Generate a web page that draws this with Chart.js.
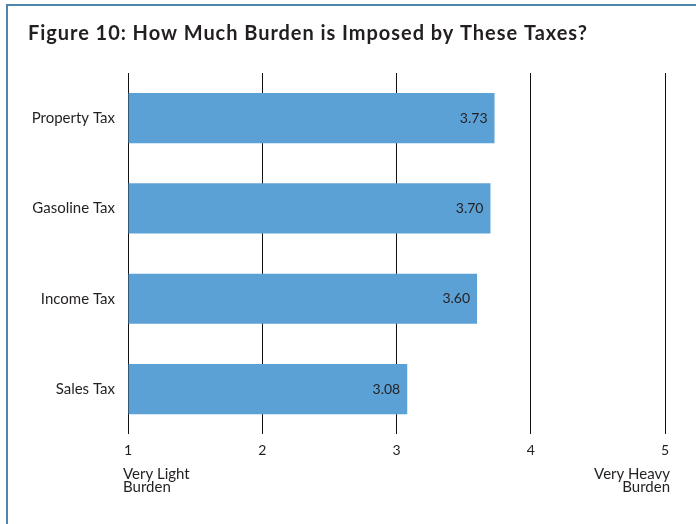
<!DOCTYPE html>
<html>
<head>
<meta charset="utf-8">
<script src="https://cdn.jsdelivr.net/npm/chart.js@4/dist/chart.umd.min.js"></script>
<style>
    html, body { margin: 0; padding: 0; background: #fff; }
    #wrap { position: relative; width: 696px; height: 524px; }
</style>
</head>
<body>
<div id="wrap"><canvas id="burden-chart"></canvas></div>
<script>
const taxes = ['Property Tax', 'Gasoline Tax', 'Income Tax', 'Sales Tax'];
const burden = [3.73, 3.70, 3.60, 3.08];
const scaleTicks = [1, 2, 3, 4, 5];
const scaleEnds = { 1: ['Very Light', 'Burden'], 5: ['Very Heavy', 'Burden'] };
const titleText = 'Figure 10: How Much Burden is Imposed by These Taxes?';

const FONT = 'Lato, "Open Sans", sans-serif';

// frame + title + value labels + end-of-scale captions
const decorations = {
    id: 'decorations',
    beforeDraw(chart) {
        const ctx = chart.ctx;
        ctx.save();
        ctx.strokeStyle = '#4f84ad';
        ctx.lineWidth = 2;
        ctx.beginPath();
        ctx.moveTo(7, 530);
        ctx.lineTo(7, 5);
        ctx.lineTo(700, 5);
        ctx.stroke();

        ctx.fillStyle = '#231f20';
        ctx.font = 'bold 20px ' + FONT;
        ctx.letterSpacing = '0.95px';
        ctx.textBaseline = 'alphabetic';
        ctx.textAlign = 'left';
        ctx.fillText(titleText, 28, 40);
        ctx.restore();
    },
    afterDatasetsDraw(chart) {
        const ctx = chart.ctx;
        const meta = chart.getDatasetMeta(0);
        ctx.save();
        ctx.fillStyle = '#231f20';
        ctx.font = '14px ' + FONT;
        ctx.textAlign = 'right';
        ctx.textBaseline = 'middle';
        meta.data.forEach((bar, i) => {
            ctx.fillText(burden[i].toFixed(2), bar.x - 7, bar.y);
        });

        const xs = chart.scales.x;
        ctx.font = '15px ' + FONT;
        ctx.textBaseline = 'alphabetic';
        Object.entries(scaleEnds).forEach(([v, lines]) => {
            const px = xs.getPixelForValue(Number(v));
            ctx.textAlign = Number(v) === 1 ? 'left' : 'right';
            const x = Number(v) === 1 ? px - 5 : px + 5;
            lines.forEach((t, j) => ctx.fillText(t, x, 479 + j * 13));
        });
        ctx.restore();
    }
};

const ctx = document.getElementById('burden-chart').getContext('2d');
new Chart(ctx, {
    type: 'bar',
    data: {
        labels: taxes,
        datasets: [{
            data: burden,
            base: 1,
            backgroundColor: '#5ba1d6',
            categoryPercentage: 1,
            barPercentage: 0.556,
        }]
    },
    options: {
        indexAxis: 'y',
        responsive: true,
        maintainAspectRatio: false,
        animation: false,
        layout: { padding: { top: 73, right: 31, bottom: 57, left: 20 } },
        plugins: {
            legend: { display: false },
            tooltip: { enabled: false },
        },
        scales: {
            x: {
                min: 1,
                max: 5,
                afterBuildTicks: axis => { axis.ticks = scaleTicks.map(v => ({ value: v })); },
                grid: { color: '#111', lineWidth: 1, drawTicks: false },
                border: { display: false },
                ticks: {
                    color: '#231f20',
                    font: { family: FONT, size: 14 },
                    padding: 8,
                },
            },
            y: {
                afterFit: axis => { axis.width = 108; },
                grid: { display: false },
                border: { display: false },
                ticks: {
                    color: '#231f20',
                    font: { family: FONT, size: 15 },
                    padding: 5,
                },
            }
        }
    },
    plugins: [decorations]
});
</script>
</body>
</html>
